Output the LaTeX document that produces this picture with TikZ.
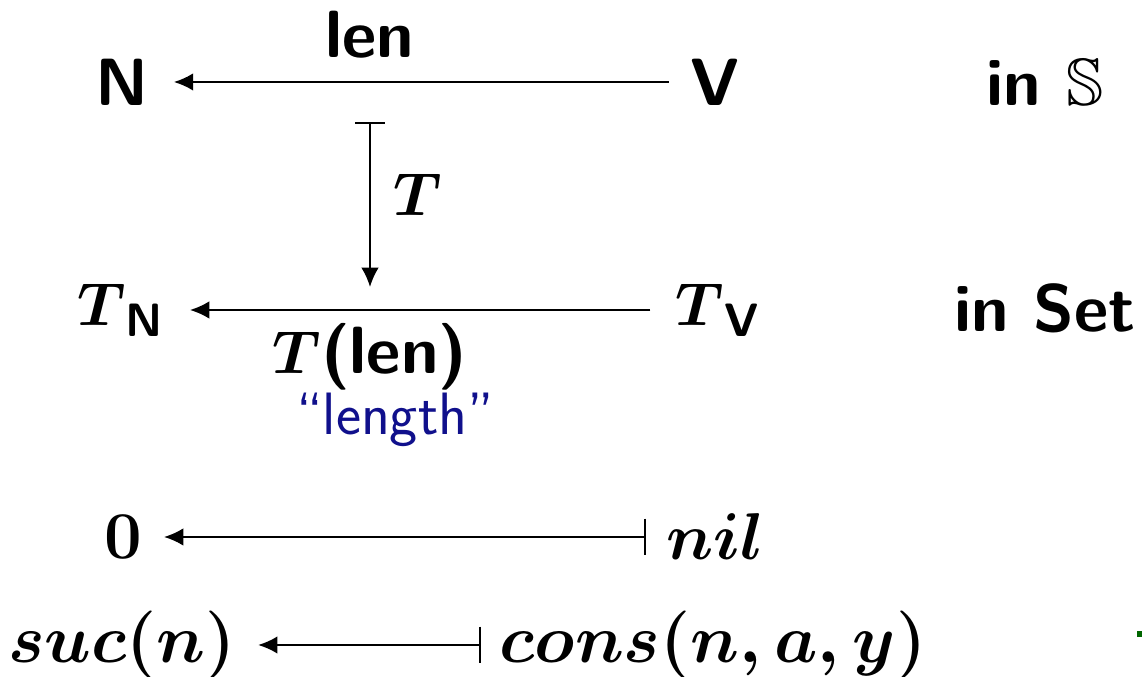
\documentclass[tikz,border=0pt]{standalone}
\usepackage{amsmath}
\usepackage{amssymb}
\usepackage{xcolor}
\usetikzlibrary{arrows.meta, positioning}
\definecolor{lenblue}{RGB}{16,16,140}

\begin{document}
\begin{tikzpicture}[
    x=0.01cm, y=-0.01cm,
    every node/.style={inner sep=1pt, font=\fontsize{19}{22}\selectfont\sffamily\bfseries},
    elem/.style={scale=1.13},
    arrow/.style={-{Latex[length=5.5pt, width=5pt]}, semithick, shorten <=5pt, shorten >=6pt},
    maparrow/.style={{Bar[width=10.5pt]}-{Latex[length=5.5pt, width=5pt]}, semithick, shorten <=6pt, shorten >=6pt}
]
\useasboundingbox (0,0) rectangle (1142,677);

% Objects in S
\node (N) at (122,82) {N};
\node (V) at (715,82) {V};
\node (inS) at (1045,82) {in $\mathbb{S}$};

% Objects in Set
\node (TN) at (121,310) {$\boldsymbol{T}_{\textsf{\textbf{N}}}$};
\node (TV) at (718,310) {$\boldsymbol{T}_{\textsf{\textbf{V}}}$};
\node (inSet) at (1045,308) {in Set};

% Element level
\node[scale=1.1] (zero) at (123,537) {$\mathbf{0}$};
\node[scale=1.09] (nil) at (715,537) {$\boldsymbol{nil}$};
\node[elem] (suc) at (122,645) {$\boldsymbol{suc(n)}$};
\node[elem] (cons) at (713,645) {$\boldsymbol{cons(n,a,y)}$};

% Labels
\node (len) at (370,35) {len};
\coordinate (top) at (370,122);
\coordinate (bot) at (370,287);
\node (T) at (418,195) {$\boldsymbol{T}$};
\node (Tlen) at (370,357) {$\boldsymbol{T}$(len)};
\node[font=\fontsize{17}{20}\selectfont\sffamily, text=lenblue] (length) at (395,420) {``length''};

% Arrows
\draw[arrow] (V) -- (N);
\draw[{Bar[width=8.5pt]}-{Latex[length=5.5pt, width=5pt]}, semithick] (top) -- (bot);
\draw[arrow, shorten <=6pt] (TV) -- (TN);
\draw[maparrow, shorten <=4.5pt, shorten >=5pt] (nil) -- (zero);
\draw[maparrow, shorten <=4pt, shorten >=5pt] (cons) -- (suc);

% stray mark
\fill[green!40!black] (1137,631) rectangle (1142,637);

\end{tikzpicture}
\end{document}
